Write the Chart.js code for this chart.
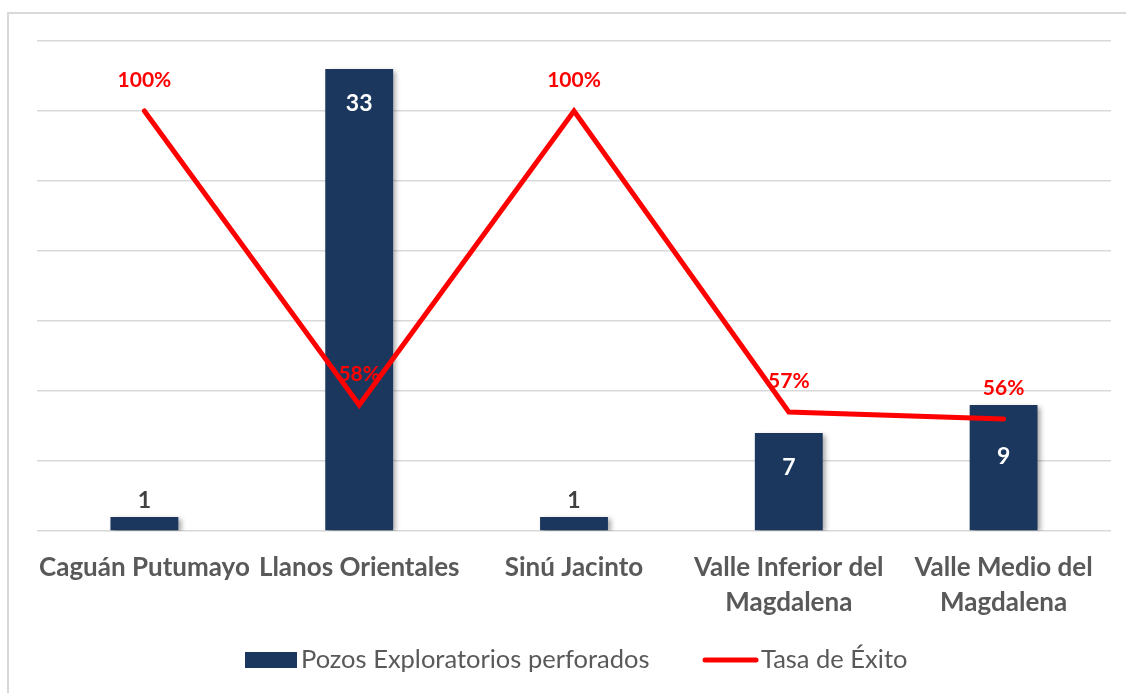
<!DOCTYPE html>
<html>
<head>
<meta charset="utf-8">
<script src="https://cdn.jsdelivr.net/npm/chart.js"></script>
<style>
  html, body { margin: 0; padding: 0; background: #fff; }
  #wrap { position: relative; width: 1126px; height: 693px; overflow: hidden; }
  #frame { position: absolute; left: 7px; top: 12px; width: 1140px; height: 700px; border: 2px solid #d9d9d9; box-sizing: border-box; }
  #chart { position: absolute; left: 0; top: 0; }
</style>
</head>
<body>
<div id="wrap">
  <div id="frame"></div>
  <canvas id="chart" width="1126" height="693"></canvas>
</div>
<script>
const cuencas = [
    'Caguán Putumayo',
    'Llanos Orientales',
    'Sinú Jacinto',
    ['Valle Inferior del', 'Magdalena'],
    ['Valle Medio del', 'Magdalena']
];
const pozosPerforados = [1, 33, 1, 7, 9];
const tasaExito = [100, 58, 100, 57, 56];

const NAVY = '#1B375E';
const RED = '#FF0000';
const GRAY = '#595959';
const FONT = 'Lato, "Open Sans", sans-serif';

// value labels for bars and line points
const valueLabels = {
    id: 'valueLabels',
    afterDatasetsDraw(chart) {
        const ctx = chart.ctx;
        ctx.save();
        ctx.textAlign = 'center';
        ctx.textBaseline = 'middle';

        const bars = chart.getDatasetMeta(0).data;
        const pts = chart.getDatasetMeta(1).data;
        ctx.font = 'bold 23px ' + FONT;
        bars.forEach((bar, i) => {
            const v = pozosPerforados[i];
            const h = bar.base - bar.y;
            if (h > 50) {
                let ly = bar.y + 35;
                // keep the number clear of the red line
                if (Math.abs(pts[i].y - bar.y) < 25) ly = Math.max(ly, pts[i].y + 38);
                ctx.fillStyle = '#ffffff';
                ctx.fillText(v, bar.x, ly);
            } else {
                ctx.fillStyle = '#404040';
                ctx.fillText(v, bar.x, bar.y - 16);
            }
        });

        ctx.font = 'bold 21px ' + FONT;
        ctx.fillStyle = RED;
        pts.forEach((p, i) => {
            ctx.fillText(tasaExito[i] + '%', p.x, p.y - 31);
        });
        ctx.restore();
    }
};

// soft drop shadow on the bars
const barShadow = {
    id: 'barShadow',
    beforeDatasetDraw(chart, args) {
        if (args.index !== 0) return;
        const ctx = chart.ctx;
        ctx.save();
        ctx.shadowColor = 'rgba(0,0,0,0.35)';
        ctx.shadowBlur = 5;
        ctx.shadowOffsetX = 3;
        ctx.shadowOffsetY = 2;
    },
    afterDatasetDraw(chart, args) {
        if (args.index !== 0) return;
        chart.ctx.restore();
    }
};

// legend along the bottom
const bottomLegend = {
    id: 'bottomLegend',
    afterDraw(chart) {
        const ctx = chart.ctx;
        const y = 660;
        ctx.save();
        ctx.font = '25.5px ' + FONT;
        ctx.textBaseline = 'middle';
        ctx.textAlign = 'left';

        ctx.fillStyle = NAVY;
        ctx.fillRect(245, y - 8, 52, 16);
        ctx.fillStyle = GRAY;
        ctx.fillText(chart.data.datasets[0].label, 301, y);

        ctx.strokeStyle = RED;
        ctx.lineWidth = 5;
        ctx.lineCap = 'round';
        ctx.beginPath();
        ctx.moveTo(705, y);
        ctx.lineTo(756, y);
        ctx.stroke();
        ctx.fillText(chart.data.datasets[1].label, 761, y);
        ctx.restore();
    }
};

new Chart(document.getElementById('chart'), {
    type: 'bar',
    data: {
        labels: cuencas,
        datasets: [
            {
                type: 'bar',
                label: 'Pozos Exploratorios perforados',
                data: pozosPerforados,
                backgroundColor: NAVY,
                yAxisID: 'y',
                categoryPercentage: 1,
                barPercentage: 0.316,
                order: 2
            },
            {
                type: 'line',
                label: 'Tasa de Éxito',
                data: tasaExito,
                borderColor: RED,
                borderWidth: 5,
                borderCapStyle: 'round',
                pointRadius: 0,
                tension: 0,
                yAxisID: 'y2',
                order: 1
            }
        ]
    },
    options: {
        responsive: false,
        animation: false,
        layout: { padding: { left: 37, right: 15, top: 41, bottom: 0 } },
        plugins: {
            legend: { display: false },
            tooltip: { enabled: false }
        },
        scales: {
            x: {
                grid: { display: false, drawTicks: false },
                border: { display: false },
                ticks: {
                    color: GRAY,
                    font: { family: FONT, size: 26, weight: 'bold', lineHeight: 1.35 },
                    padding: 19,
                    maxRotation: 0,
                    autoSkip: false
                },
                afterFit(axis) { axis.height = 162; }
            },
            y: {
                min: 0,
                max: 35,
                ticks: { stepSize: 5, display: false },
                grid: { color: '#d9d9d9', lineWidth: 1.5, drawTicks: false },
                border: { display: false },
                afterFit(axis) { axis.width = 0; }
            },
            y2: {
                position: 'right',
                min: 40,
                max: 110,
                display: false
            }
        }
    },
    plugins: [barShadow, valueLabels, bottomLegend]
});
</script>
</body>
</html>
